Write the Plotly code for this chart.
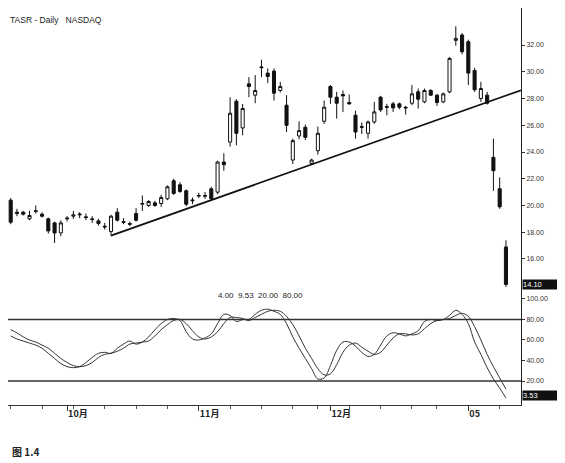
import pandas as pd
import plotly.graph_objects as go
from plotly.subplots import make_subplots

# ---- data ----
dates = pd.bdate_range("2004-09-20", "2005-01-11", freq="C",
                       holidays=["2004-11-25", "2004-12-24"])
opens = [20.4, 19.5, 19.5, 19.0, 19.55, 19.35, 19.0, 18.7, 17.95, 19.0,
         19.2, 19.3, 19.15, 19.0, 18.85, 18.45, 18.05, 19.5, 18.8, 18.65,
         19.4, 20.1, 20.0, 20.2, 20.15, 20.5, 21.85, 21.55, 21.1, 20.35,
         20.7, 20.75, 21.25, 21.0, 23.25, 24.75, 27.8, 25.8, 29.1, 28.25,
         30.3, 29.9, 30.05, 28.6, 27.5, 23.4, 25.2, 25.85, 23.15, 24.1,
         26.3, 28.9, 28.1, 28.3, 27.7, 26.75, 25.9, 25.4, 26.25, 28.1,
         27.4, 27.6, 27.6, 27.35, 27.65, 28.5, 27.75, 28.6, 28.25, 27.75,
         28.5, 32.35, 32.75, 32.25, 30.1, 28.0, 28.25, 23.6, 21.25, 16.9]
highs = [20.55, 19.75, 19.6, 19.6, 20.0, 19.5, 19.1, 18.8, 18.9, 19.2,
         19.6, 19.5, 19.4, 19.2, 19.0, 18.7, 19.3, 19.8, 19.05, 18.8,
         19.8, 20.75, 20.4, 20.35, 20.8, 21.5, 22.0, 21.75, 21.2, 20.6,
         20.95, 21.0, 21.4, 23.35, 23.9, 28.1, 27.95, 27.6, 29.6, 29.75,
         30.9, 30.25, 30.25, 29.25, 28.25, 25.0, 26.3, 26.05, 23.5, 25.9,
         27.85, 29.0, 28.5, 28.6, 28.3, 27.1, 26.2, 26.35, 27.75, 28.2,
         27.6, 27.75, 27.7, 27.45, 29.0, 28.75, 28.75, 28.7, 28.35, 28.45,
         31.1, 33.4, 32.9, 32.4, 30.3, 29.25, 28.5, 25.0, 22.1, 17.4]
lows = [18.6, 19.2, 19.25, 18.9, 19.4, 19.1, 17.9, 17.2, 17.7, 18.8,
        19.0, 19.05, 18.9, 18.7, 18.5, 18.2, 17.75, 18.8, 18.6, 18.45,
        18.8, 19.6, 19.9, 19.9, 19.9, 20.4, 20.8, 20.95, 19.95, 20.1,
        20.55, 20.5, 20.35, 20.85, 22.6, 24.4, 24.5, 25.25, 28.1, 27.65,
        29.6, 29.15, 27.85, 28.45, 25.5, 23.1, 24.95, 24.9, 23.05, 23.8,
        26.1, 27.6, 26.5, 27.0, 27.55, 25.0, 25.35, 25.0, 26.1, 27.0,
        26.75, 27.0, 27.2, 26.8, 27.5, 27.25, 27.65, 28.2, 27.45, 27.65,
        28.4, 31.95, 31.3, 29.0, 28.5, 27.75, 27.55, 21.1, 19.75, 13.9]
closes = [18.75, 19.4, 19.35, 19.25, 19.6, 19.2, 18.1, 17.95, 18.7, 19.05,
          19.3, 19.35, 19.1, 18.95, 18.65, 18.4, 19.2, 18.9, 18.75, 18.6,
          18.9, 20.15, 20.3, 20.0, 20.6, 21.4, 20.9, 21.05, 20.1, 20.4,
          20.75, 20.7, 20.5, 23.25, 23.05, 26.9, 25.4, 27.25, 28.9, 28.6,
          30.35, 29.65, 28.4, 28.9, 26.0, 24.85, 25.6, 25.1, 23.4, 25.4,
          27.35, 28.1, 27.65, 28.2, 27.6, 25.5, 25.85, 26.25, 27.0, 27.15,
          27.35, 27.3, 27.35, 27.3, 28.35, 27.95, 28.6, 28.25, 27.7, 28.35,
          31.0, 32.5, 31.5, 29.9, 28.65, 28.75, 27.65, 22.6, 19.9, 14.1]
stoch_k = [64, 61, 59, 57, 55, 52, 47, 42, 37, 34,
           33, 34, 38, 43, 47, 48, 47, 52, 56, 59,
           56, 58, 63, 70, 76, 80, 81, 79, 68, 61,
           60, 62, 66, 76, 85, 84, 78, 80, 80, 85,
           89, 90, 88, 85, 76, 63, 52, 42, 32, 22,
           23, 35, 50, 58, 58, 54, 48, 44, 46, 55,
           64, 67, 66, 64, 66, 69, 78, 80, 79, 80,
           84, 89, 85, 76, 58, 46, 33, 22, 13, 3.53]
stoch_d = [70, 67, 63, 60, 58, 55, 52, 47, 42, 38,
           35, 34, 35, 38, 43, 46, 47, 49, 52, 56,
           57, 58, 59, 64, 70, 75, 79, 80, 76, 69,
           63, 61, 63, 68, 76, 82, 82, 81, 79, 82,
           85, 88, 89, 88, 83, 75, 64, 52, 42, 32,
           26, 27, 36, 48, 55, 57, 53, 49, 46, 48,
           55, 62, 66, 66, 65, 66, 71, 76, 79, 80,
           81, 84, 86, 83, 73, 60, 46, 34, 23, 12]
stoch_levels = [20, 80]
trend_x = [16, 81.4]
trend_y = [17.75, 28.62]
price_ticks = [16, 18, 20, 22, 24, 26, 28, 30, 32]
stoch_ticks = [20, 40, 60, 80, 100]
month_labels = ["10月", "11月", "12月", "05"]
params_text = "4.00  9.53  20.00  80.00"
title_text = "TASR - Daily   NASDAQ"
caption_text = "图 1.4"

x = list(range(len(dates)))
month_idx = [i for i in range(1, len(dates)) if dates[i].month != dates[i - 1].month]
monday_idx = [i for i, d in enumerate(dates) if d.weekday() == 0]

# ---- figure ----
fig = make_subplots(rows=2, cols=1, shared_xaxes=True, vertical_spacing=0,
                    row_heights=[0.7154, 0.2846])

fig.add_trace(go.Candlestick(
    x=x, open=opens, high=highs, low=lows, close=closes,
    increasing=dict(line=dict(color="#111", width=1), fillcolor="white"),
    decreasing=dict(line=dict(color="#111", width=1), fillcolor="#111"),
    whiskerwidth=0, showlegend=False), row=1, col=1)

fig.add_trace(go.Scatter(x=trend_x, y=trend_y, mode="lines",
                         line=dict(color="#111", width=1.8),
                         showlegend=False, hoverinfo="skip"), row=1, col=1)

fig.add_trace(go.Scatter(x=x, y=stoch_k, mode="lines",
                         line=dict(color="#333", width=1.0, shape="spline"),
                         showlegend=False), row=2, col=1)
fig.add_trace(go.Scatter(x=x, y=stoch_d, mode="lines",
                         line=dict(color="#333", width=1.0, shape="spline"),
                         showlegend=False), row=2, col=1)

for lv in stoch_levels:
    fig.add_shape(type="line", xref="paper", x0=0, x1=1, yref="y2", y0=lv, y1=lv,
                  line=dict(color="#333", width=1.3))

tickfont = dict(family="Liberation Sans, Arial", size=7, color="#333")

fig.update_xaxes(range=[-0.43, 81.4], showgrid=False, zeroline=False,
                 rangeslider_visible=False, row=1, col=1, showticklabels=False,
                 ticks="", showline=False)
fig.update_xaxes(range=[-0.43, 81.4], showgrid=False, zeroline=False,
                 rangeslider_visible=False, row=2, col=1,
                 showline=True, linecolor="#333", linewidth=1,
                 tickmode="array", tickvals=month_idx,
                 ticktext=["<b>" + t + "</b>" for t in month_labels],
                 ticks="outside", ticklen=5, tickcolor="#333", tickwidth=1,
                 ticklabelposition="outside right",
                 tickfont=dict(family="Noto Sans CJK SC", size=9, color="#222"),
                 minor=dict(tickmode="array", tickvals=monday_idx, ticks="outside",
                            ticklen=3, tickcolor="#555", tickwidth=1))

fig.update_yaxes(side="right", range=[13.53, 34.77], showgrid=False, zeroline=False,
                 showline=True, linecolor="#222", linewidth=1,
                 tickmode="array", tickvals=price_ticks,
                 ticktext=["%.2f" % v for v in price_ticks],
                 ticks="outside", ticklen=3, tickcolor="#333", tickfont=tickfont,
                 row=1, col=1)
fig.update_yaxes(side="right", range=[-3.4, 106.8], showgrid=False, zeroline=False,
                 showline=True, linecolor="#222", linewidth=1,
                 tickmode="array", tickvals=stoch_ticks,
                 ticktext=["%.2f" % v for v in stoch_ticks],
                 ticks="outside", ticklen=3, tickcolor="#333", tickfont=tickfont,
                 row=2, col=1)

fig.add_annotation(text=title_text, xref="paper", yref="paper", x=0, y=0.970,
                   xanchor="left", yanchor="middle", showarrow=False,
                   font=dict(family="Liberation Sans, Arial", size=8.5, color="#222"))
fig.add_annotation(text=params_text, xref="paper", yref="paper", x=0.405, y=0.277,
                   xanchor="left", yanchor="middle", showarrow=False,
                   font=dict(family="Liberation Sans, Arial", size=8, color="#222"))
fig.add_annotation(text="<b>" + caption_text + "</b>", xref="paper", yref="paper",
                   x=0, y=-0.1159, xanchor="left", yanchor="middle", xshift=2,
                   showarrow=False,
                   font=dict(family="Noto Sans CJK SC", size=10, color="#222"))
fig.add_annotation(text="%.2f" % closes[-1], xref="paper", yref="y", x=1, y=closes[-1],
                   xanchor="left", yanchor="middle", xshift=1, showarrow=False,
                   bgcolor="#111", width=38, align="left", borderpad=0,
                   font=dict(family="Liberation Sans, Arial", size=7.5, color="white"))
fig.add_annotation(text="%.2f" % stoch_k[-1], xref="paper", yref="y2", x=1, y=stoch_k[-1],
                   xanchor="left", yanchor="middle", xshift=1, yshift=2, showarrow=False,
                   bgcolor="#111", width=38, align="left", borderpad=0,
                   font=dict(family="Liberation Sans, Arial", size=7.5, color="white"))

fig.update_layout(width=557, height=455, margin=dict(l=0, r=44, t=0, b=58),
                  paper_bgcolor="white", plot_bgcolor="white", showlegend=False)

fig.write_html("out.html")
